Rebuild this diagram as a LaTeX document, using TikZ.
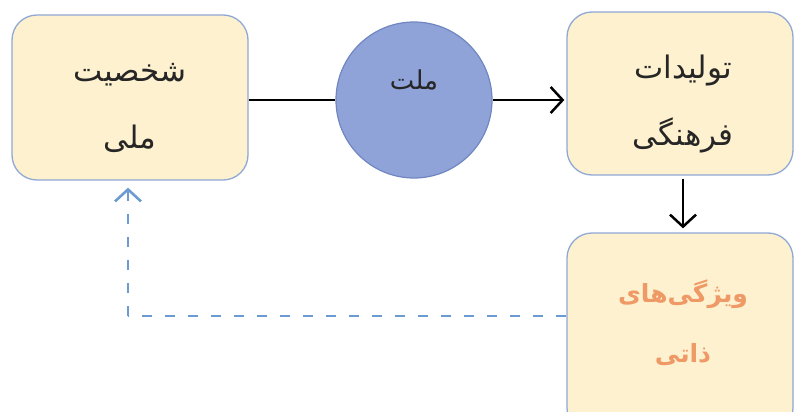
\documentclass[tikz,border=0pt]{standalone}
\usepackage{fontspec}
\newfontfamily\arabicfont[Script=Arabic]{DejaVu Sans}
\TeXXeTstate=1
\usetikzlibrary{arrows.meta}
\definecolor{boxfill}{HTML}{FDF1CF}
\definecolor{boxline}{HTML}{8FA8D6}
\definecolor{circfill}{HTML}{8FA3D9}
\definecolor{circline}{HTML}{6F86C0}
\definecolor{dashblue}{HTML}{6C9AD2}
\definecolor{orangetxt}{HTML}{EF9A66}
\tikzset{
  rbox/.style={draw=boxline, line width=1.3pt, fill=boxfill, rounded corners=25pt, inner sep=0pt},
  btxt/.style={font=\arabicfont\fontsize{31}{67}\selectfont, align=center, text=black!85},
  conn/.style={line width=2.5pt, black},
  tip/.style={-{Straight Barb[length=12pt,width=26pt,line width=2.5pt]}},
  dashline/.style={line width=2.8pt, dashblue, dash pattern=on 10pt off 13pt}
}
\begin{document}
\begin{tikzpicture}[x=1pt,y=-1pt]
\useasboundingbox (0,0) rectangle (795,412);
\clip (0,0) rectangle (795,412);
\node[rbox, minimum width=236pt, minimum height=165pt] (lb) at (130,97.5) {};
\node[rbox, minimum width=226pt, minimum height=163pt] (rt) at (680,93.5) {};
\node[rbox, minimum width=226pt, minimum height=200pt] (bt) at (680,333) {};
\node[circle, draw=circline, line width=1.2pt, fill=circfill, minimum size=156pt, inner sep=0pt] (c) at (414,100) {};
\coordinate (dk) at (128,316);
\coordinate (ax) at (683,0);
\node[btxt] (lt) at (130,108) {\beginR شخصیت\endR\\\beginR ملی\endR};
\node[btxt, font=\arabicfont\fontsize{26}{30}\selectfont] (ct) at (414,80) {\beginR ملت\endR};
\node[btxt] (rtt) at (683,104) {\beginR تولیدات\endR\\\beginR فرهنگی\endR};
\node[btxt, text=orangetxt, font=\arabicfont\bfseries\fontsize{25}{60}\selectfont] (btt) at (683,323) {\beginR ویژگی‌های\endR\\\beginR ذاتی\endR};
\draw[conn] (lb.east |- c) -- (c.west);
\draw[conn, tip] (c.east) -- ([xshift=-2pt]rt.west |- c);
\draw[conn, tip] ([yshift=-3pt]rt.south -| ax) -- ([yshift=4pt]bt.north -| ax);
\draw[dashline] (bt.west |- dk) -- (dk);
\draw[dashline, -{Straight Barb[length=12pt,width=26pt,line width=2.6pt]}] (dk) -- ([yshift=-7pt]lb.south -| dk);
\end{tikzpicture}
\end{document}
